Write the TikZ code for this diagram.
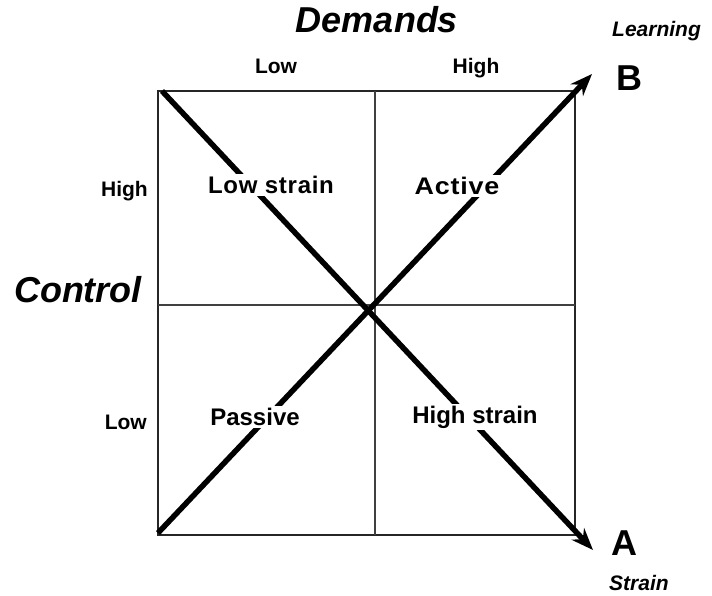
\documentclass[tikz,border=0pt]{standalone}
\usepackage{fontspec}
\setmainfont{Liberation Sans}
\usetikzlibrary{arrows.meta}
\begin{document}
\begin{tikzpicture}[x=1pt,y=-1pt,
  axislabel/.style={font=\bfseries\fontsize{21}{21}\selectfont, inner sep=0pt},
  title/.style={font=\bfseries\itshape\fontsize{36}{36}\selectfont, inner sep=0pt},
  smalltitle/.style={font=\bfseries\itshape\fontsize{21}{21}\selectfont, inner sep=0pt},
  pole/.style={font=\bfseries\fontsize{36}{36}\selectfont, inner sep=0pt},
  quad/.style={font=\bfseries\fontsize{24}{24}\selectfont, fill=white, inner sep=2pt},
  diag/.style={line width=5.5pt, -{Stealth[length=22pt,width=17pt]}},
  frame/.style={draw=black!85, line width=1.8pt},
  divider/.style={draw=black!75, line width=1.3pt}]
\useasboundingbox (0,0) rectangle (712,596);

% quadrant frame and dividers
\draw[frame] (158,91) rectangle (575,535);
\coordinate (vtop) at (375,91);
\coordinate (vbot) at (375,535);
\coordinate (hleft) at (158,305);
\coordinate (hright) at (575,305);
\draw[divider] (vtop) -- (vbot);
\draw[divider] (hleft) -- (hright);

% diagonal axes A (strain) and B (learning)
\coordinate (sA) at (162,91);
\coordinate (tA) at (593,550);
\coordinate (sB) at (158,533);
\coordinate (tB) at (592,74);
\draw[diag] (sA) -- (tA);
\draw[diag] (sB) -- (tB);

% quadrant labels
\node[quad] (lowstrain) at (271,185) {\addfontfeature{LetterSpace=3}Low strain};
\node[quad] (active) at (457,186) {\scalebox{1.12}[1]{\addfontfeature{LetterSpace=3}Active}};
\node[quad] (passive) at (255,417) {Passive};
\node[quad] (highstrain) at (475,417) {High strain};

% axis titles
\node[title, anchor=base] (demands) at (377,33) {Demands};
\node[title, anchor=base] (control) at (78,302) {Control};
\node[axislabel, anchor=base] (dlow) at (276,74) {Low};
\node[axislabel, anchor=base] (dhigh) at (476,74) {High};
\node[axislabel, anchor=base east] (chigh) at (148,197) {High};
\node[axislabel, anchor=base east] (clow) at (147,429) {Low};

% poles of the diagonals
\node[smalltitle, anchor=base west] (learning) at (612,37) {Learning};
\node[pole, anchor=base west] (B) at (616,91) {B};
\node[pole, anchor=base west] (A) at (611,555) {A};
\node[smalltitle, anchor=base west] (strain) at (609,590) {Strain};
\end{tikzpicture}
\end{document}
